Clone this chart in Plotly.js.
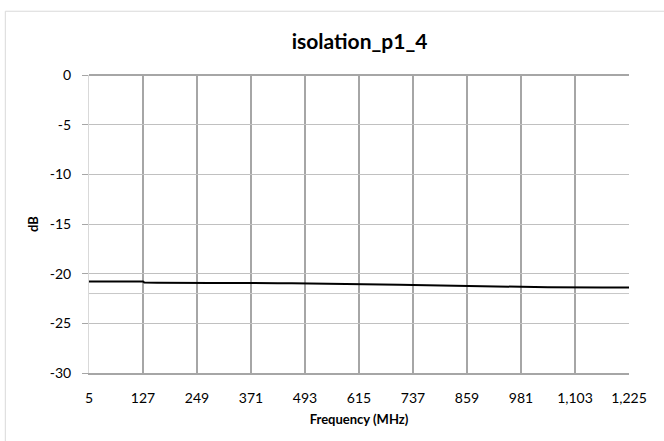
<!DOCTYPE html>
<html>
<head>
<meta charset="utf-8">
<script src="https://cdn.plot.ly/plotly-3.0.1.min.js"></script>
<style>html,body{margin:0;padding:0;background:#fff;}#chart{width:664px;height:441px;}</style>
</head>
<body>
<div id="chart"></div>
<script>
const chartTitle = "isolation_p1_4";
const xTitle = "Frequency (MHz)";
const yTitle = "dB";
const freqMHz = [5, 36, 66, 97, 127, 130, 158, 188, 219, 249, 280, 310, 341, 371, 402, 432, 463, 493, 524, 554, 585, 615, 646, 676, 707, 737, 768, 798, 829, 859, 890, 920, 951, 981, 1012, 1042, 1073, 1103, 1134, 1164, 1195, 1225];
const isolationDb = [-20.78, -20.81, -20.79, -20.80, -20.79, -20.90, -20.91, -20.93, -20.96, -20.93, -20.95, -20.94, -20.93, -20.95, -20.96, -20.96, -20.97, -20.98, -20.99, -21.02, -21.03, -21.05, -21.06, -21.10, -21.12, -21.14, -21.17, -21.20, -21.22, -21.25, -21.28, -21.30, -21.32, -21.34, -21.35, -21.36, -21.38, -21.42, -21.38, -21.39, -21.40, -21.40];
const limitFreq = [5, 1225];
const limitDb = [-22, -22];
const xTickVals = [5, 127, 249, 371, 493, 615, 737, 859, 981, 1103, 1225];
const xTickText = ["5", "127", "249", "371", "493", "615", "737", "859", "981", "1,103", "1,225"];
const yTickVals = [0, -5, -10, -15, -20, -25, -30];
const yTickText = ["0", "-5", "-10", "-15", "-20", "-25", "-30"];

const font = "Lato, 'Open Sans', sans-serif";

const traces = [
  {x: limitFreq, y: limitDb, mode: "lines", line: {color: "#c8c8c8", width: 1}, hoverinfo: "skip", showlegend: false},
  {x: freqMHz, y: isolationDb, mode: "lines", line: {color: "#000000", width: 2}, showlegend: false}
];

const layout = {
  width: 664, height: 441,
  margin: {l: 89, r: 34.5, t: 75, b: 67.5},
  paper_bgcolor: "#ffffff", plot_bgcolor: "#ffffff",
  font: {family: font, size: 13, color: "#595959"},
  title: {text: "<b>" + chartTitle + "</b>", font: {family: font, size: 21, color: "#000000"}, x: 0.5415, xanchor: "center", y: 0.905, yanchor: "middle"},
  xaxis: {
    range: [5, 1225], tickvals: xTickVals, ticktext: xTickText,
    showgrid: true, gridcolor: "#a6a6a6", gridwidth: 2,
    showline: true, linecolor: "#a6a6a6", linewidth: 2,
    ticks: "", zeroline: false, ticklabelstandoff: 11,
    tickfont: {family: font, size: 14, color: "#000000"},
    title: {text: "<b>" + xTitle + "</b>", font: {family: font, size: 13, color: "#000000"}, standoff: 10}
  },
  yaxis: {
    range: [-30, 0], tickvals: yTickVals, ticktext: yTickText,
    showgrid: true, gridcolor: "#c0c0c0", gridwidth: 1,
    showline: true, linecolor: "#d9d9d9", linewidth: 1,
    ticks: "outside", ticklen: 6, tickcolor: "#a6a6a6", tickwidth: 1,
    zeroline: true, zerolinecolor: "#a6a6a6", zerolinewidth: 2,
    ticklabelstandoff: 8,
    tickfont: {family: font, size: 14, color: "#000000"},
    title: {text: "<b>" + yTitle + "</b>", font: {family: font, size: 13, color: "#000000"}, standoff: 8}
  },
  shapes: [
    {type: "rect", xref: "paper", yref: "paper", x0: -0.155, x1: 1.2, y0: -0.4, y1: 1.214, line: {color: "#d9d9d9", width: 1}, fillcolor: "rgba(0,0,0,0)", layer: "below"}
  ]
};

Plotly.newPlot("chart", traces, layout, {displayModeBar: false, staticPlot: true});
</script>
</body>
</html>
